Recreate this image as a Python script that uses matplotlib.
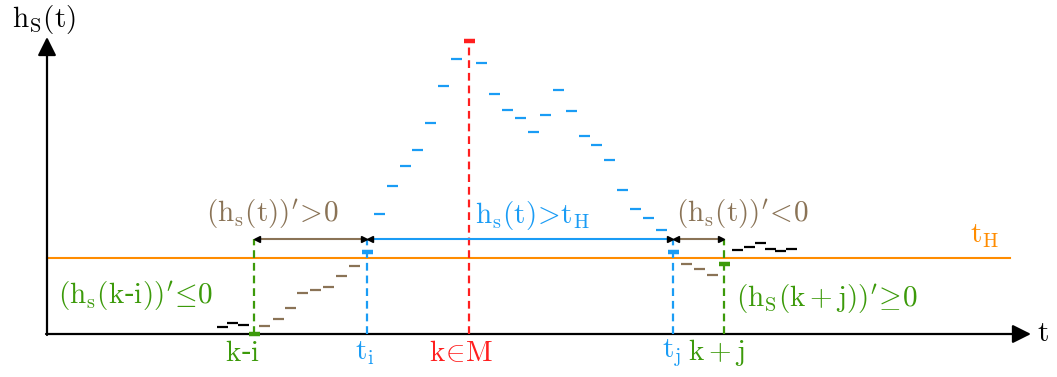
import matplotlib
matplotlib.use("Agg")
import matplotlib.pyplot as plt
import numpy as np

plt.rcParams['mathtext.fontset'] = 'cm'

# ---- data (t = time position, h = height above t-axis) ----
black_left_t = [222, 232, 243]
black_left_h = [7, 11, 9]
rise_t = [264, 278, 290, 302, 315, 328, 341, 354]
rise_h = [8, 15, 26, 41, 44, 47, 58, 68]
above_t = [379.5, 392.5, 405.5, 417.5, 430.5, 443.5, 456.5,
           481.5, 494.5, 507.5, 520.5, 533, 545.5, 558.5, 571.5, 584,
           596.5, 609.5, 622.5, 635.5, 648, 661]
above_h = [120, 148, 168, 184, 211, 248, 275,
           271, 240, 224, 216, 202, 219, 244, 223, 198,
           189, 174, 144, 125, 116, 104]
fall_t = [686.5, 699, 712]
fall_h = [70, 65, 59]
black_right_t = [737.5, 749.5, 760.5, 770, 780, 791.5]
black_right_h = [84, 87, 91, 85, 83, 85]

t_ki, h_ki = 254, 0
t_i, h_ti = 367, 82
t_k, h_k = 469, 293
t_j, h_tj = 673, 82
t_kj, h_kj = 724, 70
t_H = 76
arrow_h = 95

C_BLUE = '#1a9cf5'
C_BROWN = '#8a7356'
C_GREEN = '#3c9a0a'
C_RED = '#ff1f1f'
C_ORANGE = '#ff8c00'

fig = plt.figure(figsize=(10.57, 3.77), dpi=100)
ax = fig.add_axes([0, 0, 1, 1])
ax.set_xlim(0, 1057)
ax.set_ylim(-43, 334)
ax.axis('off')

HW = 5.5
def dashes(t, h, color, lw=1.6):
    t = np.asarray(t, float)
    ax.hlines(h, t - HW, t + HW, colors=color, lw=lw, zorder=4)

# axes arrows
ax.annotate('', xy=(1031, 0), xytext=(46, 0),
            arrowprops=dict(arrowstyle='-|>', mutation_scale=28, lw=1.6, color='black',
                            shrinkA=0, shrinkB=0))
ax.annotate('', xy=(47, 297), xytext=(47, -1),
            arrowprops=dict(arrowstyle='-|>', mutation_scale=28, lw=1.6, color='black',
                            shrinkA=0, shrinkB=0))

# threshold
ax.plot([47, 1010], [t_H, t_H], color=C_ORANGE, lw=1.5, zorder=2)

# dashed verticals
dkw = dict(lw=1.6, dashes=(3.5, 2.2), zorder=3)
ax.plot([t_ki, t_ki], [0, arrow_h], color=C_GREEN, **dkw)
ax.plot([t_i, t_i], [0, arrow_h], color=C_BLUE, **dkw)
ax.plot([t_k, t_k], [0, h_k], color=C_RED, **dkw)
ax.plot([t_j, t_j], [0, arrow_h], color=C_BLUE, **dkw)
ax.plot([t_kj, t_kj], [0, arrow_h], color=C_GREEN, **dkw)

# horizontal interval arrows
def interval(a, b, color):
    ax.plot([a + 3, b - 3], [arrow_h, arrow_h], color=color, lw=1.5, zorder=3)
    ax.plot([a + 3], [arrow_h], marker='<', color='black', ms=4, zorder=5)
    ax.plot([b - 3], [arrow_h], marker='>', color='black', ms=4, zorder=5)
interval(t_ki, t_i, C_BROWN)
interval(t_i, t_j, C_BLUE)
interval(t_j, t_kj, C_BROWN)

# series dashes
dashes(black_left_t, black_left_h, 'black')
dashes(rise_t, rise_h, C_BROWN)
dashes(above_t, above_h, C_BLUE)
dashes(fall_t, fall_h, C_BROWN)
dashes(black_right_t, black_right_h, 'black')
# emphasised markers
dashes([t_ki], [h_ki], C_GREEN, lw=3.2)
dashes([t_i], [h_ti], C_BLUE, lw=3.2)
dashes([t_k], [h_k], C_RED, lw=3.2)
dashes([t_j], [h_tj], C_BLUE, lw=3.2)
dashes([t_kj], [h_kj], C_GREEN, lw=3.2)

fs = 21
def txt(x, y, s, c, **kw):
    ax.text(x, y, s, color=c, fontsize=fs, ha='center', va='center', **kw)

txt(44, 314, r'$\mathrm{h_S(t)}$', 'black')
txt(1043, 1, r'$\mathrm{t}$', 'black')
txt(243, -19, r'$\mathrm{k}$-$\mathrm{i}$', C_GREEN)
txt(365, -19, r'$\mathrm{t_i}$', C_BLUE)
txt(461, -19, r'$\mathrm{k\!\in\!M}$', C_RED)
txt(672, -19, r'$\mathrm{t_j}$', C_BLUE)
txt(716, -19, r'$\mathrm{k+j}$', C_GREEN)
txt(272, 119, r"$\mathrm{(h_s(t))'\!>\!0}$", C_BROWN)
txt(533, 119, r"$\mathrm{h_s(t)\!>\!t_H}$", C_BLUE)
txt(742, 119, r"$\mathrm{(h_s(t))'\!<\!0}$", C_BROWN)
txt(136, 37, r"$\mathrm{(h_s(k}$-$\mathrm{i))'\!\leq\!0}$", C_GREEN)
txt(827, 34, r"$\mathrm{(h_S(k+j))'\!\geq\!0}$", C_GREEN)
txt(985, 98, r'$\mathrm{t_H}$', C_ORANGE)

fig.savefig('out.png', dpi=100)
